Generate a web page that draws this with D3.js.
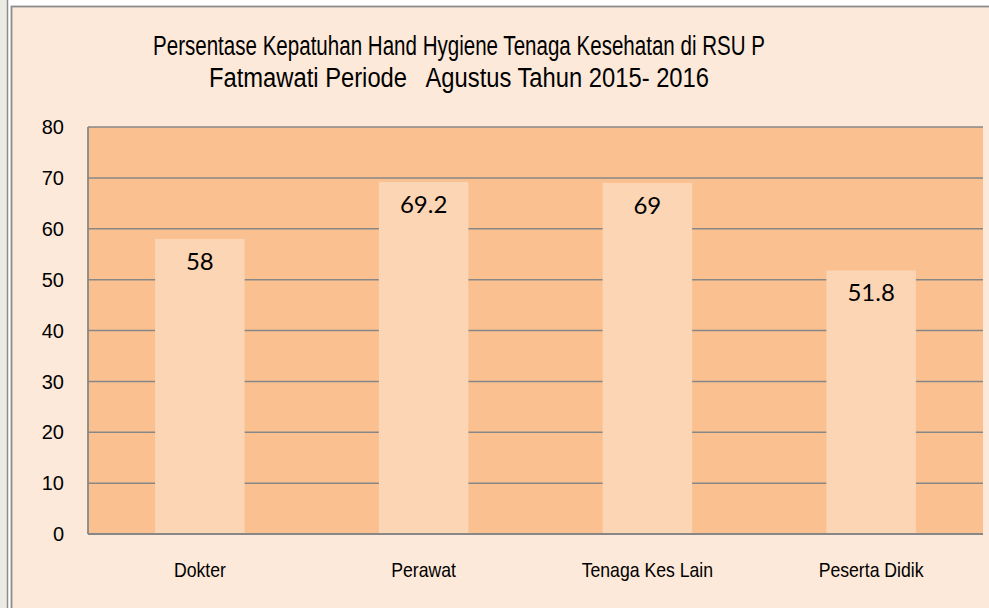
<!DOCTYPE html>
<html><head><meta charset="utf-8">
<script src="https://cdn.jsdelivr.net/npm/d3@7"></script>
<style>html,body{margin:0;padding:0;background:#fff;}svg{display:block;}</style>
</head><body><svg id="c" width="989" height="608"></svg>
<script>
const categories = ["Dokter", "Perawat", "Tenaga Kes Lain", "Peserta Didik"];
const values = [58, 69.2, 69, 51.8];
const valueLabels = ["58", "69.2", "69", "51.8"];
const yTicks = [0, 10, 20, 30, 40, 50, 60, 70, 80];
const titleLines = ["Persentase Kepatuhan Hand Hygiene Tenaga Kesehatan di RSU P", "Fatmawati Periode   Agustus Tahun 2015- 2016"];

(function(){
const svg = d3.select("#c");
const W = 989, H = 608;
const sans = "'Liberation Sans',Arial,sans-serif";

// page frame
svg.append("rect").attr("x",0).attr("y",0).attr("width",W).attr("height",H).attr("fill","#ffffff");
svg.append("rect").attr("x",0).attr("y",0).attr("width",8).attr("height",H).attr("fill","#ecebe3");
svg.append("line").attr("x1",7.5).attr("x2",7.5).attr("y1",0).attr("y2",H).attr("stroke","#8c8c8c").attr("stroke-width",1.5);
svg.append("rect").attr("x",11.5).attr("y",6.5).attr("width",W).attr("height",H).attr("fill","#fde9d9")
  .attr("stroke","#8c8c8c").attr("stroke-width",1.8);

const pL = 88, pR = 983, pT = 127, pB = 534;
const x = d3.scaleBand().domain(categories).range([pL, pR]).paddingInner(0.6).paddingOuter(0.3);
const y = d3.scaleLinear().domain([0, 80]).range([pB, pT]);

svg.append("rect").attr("x",pL).attr("y",pT).attr("width",pR-pL).attr("height",pB-pT).attr("fill","#fac090");

// gridlines
svg.append("g").selectAll("line").data(yTicks.filter(t=>t>0)).join("line")
  .attr("x1",pL).attr("x2",pR).attr("y1",d=>y(d)).attr("y2",d=>y(d))
  .attr("stroke","#878787").attr("stroke-width",1.5);

// bars
svg.append("g").selectAll("rect").data(values).join("rect")
  .attr("x",(d,i)=>x(categories[i])).attr("width",x.bandwidth())
  .attr("y",d=>y(d)).attr("height",d=>pB-y(d)).attr("fill","#fcd5b5");

// axes lines
svg.append("line").attr("x1",pL).attr("x2",pL).attr("y1",pT).attr("y2",pB).attr("stroke","#878787").attr("stroke-width",1.8);
svg.append("line").attr("x1",pL).attr("x2",pR).attr("y1",pB).attr("y2",pB).attr("stroke","#878787").attr("stroke-width",1.8);

// y tick labels
svg.append("g").selectAll("text").data(yTicks).join("text")
  .attr("x",64).attr("y",d=>y(d)).attr("dy","0.36em").attr("text-anchor","end")
  .attr("font-family",sans).attr("font-size",20).attr("fill","#000")
  .text(d=>d);

// x labels (condensed like the original narrow face)
svg.append("g").selectAll("text").data(categories).join("text")
  .attr("x",d=>x(d)+x.bandwidth()/2).attr("y",577).attr("text-anchor","middle")
  .attr("font-family",sans).attr("font-size",21).attr("fill","#000")
  .text(d=>d)
  .each(function(){ const L=this.getComputedTextLength(); d3.select(this).attr("textLength",L*0.84).attr("lengthAdjust","spacingAndGlyphs"); });

// value labels
svg.append("g").selectAll("text").data(values).join("text")
  .attr("x",(d,i)=>x(categories[i])+x.bandwidth()/2).attr("y",d=>y(d)+31).attr("text-anchor","middle")
  .attr("font-family","Lato,'Open Sans',sans-serif").attr("font-size",24).attr("fill","#000")
  .text((d,i)=>valueLabels[i]);

// title
const titleWidths = [612, 500];
svg.append("g").selectAll("text").data(titleLines).join("text")
  .attr("x",459).attr("y",(d,i)=>55+i*32).attr("text-anchor","middle")
  .attr("font-family",sans).attr("font-size",27).attr("fill","#000")
  .attr("xml:space","preserve").style("white-space","pre")
  .attr("textLength",(d,i)=>titleWidths[i]).attr("lengthAdjust","spacingAndGlyphs")
  .text(d=>d);
})();
</script></body></html>
